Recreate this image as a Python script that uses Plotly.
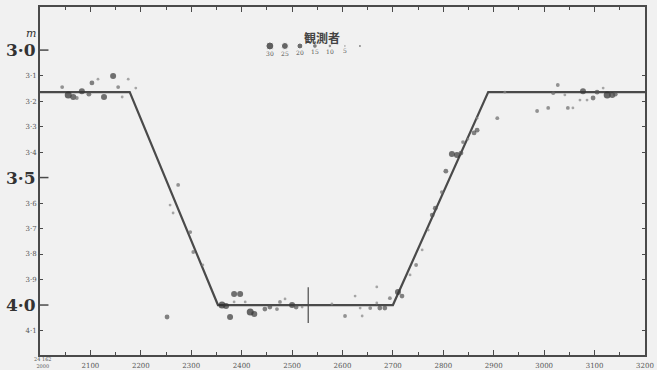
import plotly.graph_objects as go

# ---- data ----
obs_time = [2044, 2056, 2066, 2073, 2083, 2097, 2103, 2115, 2127, 2145, 2155, 2163, 2175, 2190,
            2274, 2258, 2264, 2298, 2304, 2323, 2252,
            2361, 2369, 2385, 2397, 2385, 2407, 2377, 2417, 2425, 2446, 2456, 2470, 2476, 2486,
            2500, 2508, 2520, 2579, 2605, 2625, 2635, 2639, 2655, 2668, 2668, 2674, 2684, 2694,
            2710, 2718,
            2734, 2746, 2758, 2770, 2778, 2784, 2797, 2805, 2817, 2827, 2835, 2839, 2849, 2861,
            2867, 2867, 2907,
            2922, 2986, 3008, 3018, 3027, 3041, 3047, 3057, 3071, 3077, 3085, 3097, 3105, 3117,
            3125, 3135, 3141]
obs_mag = [3.145, 3.176, 3.184, 3.188, 3.161, 3.173, 3.129, 3.114, 3.184, 3.102, 3.145, 3.184, 3.114, 3.149,
           3.529, 3.608, 3.639, 3.714, 3.792, 3.843, 4.047,
           4.000, 4.004, 3.957, 3.957, 3.988, 3.988, 4.047, 4.027, 4.035, 4.016, 4.008, 4.016, 3.988, 3.976,
           4.000, 4.008, 4.008, 3.996, 4.043, 3.965, 4.012, 4.043, 4.012, 3.929, 3.992, 4.012, 4.012, 3.973,
           3.949, 3.965,
           3.882, 3.843, 3.784, 3.706, 3.647, 3.620, 3.557, 3.475, 3.408, 3.412, 3.404, 3.361, 3.349, 3.325,
           3.314, 3.267, 3.267,
           3.165, 3.239, 3.227, 3.169, 3.137, 3.176, 3.227, 3.227, 3.196, 3.161, 3.196, 3.188, 3.165, 3.149,
           3.176, 3.176, 3.173]
obs_weight = [2, 5, 4, 2, 4, 3, 3, 1, 4, 4, 2, 1, 1, 1,
              2, 1, 1, 2, 2, 1, 3,
              5, 4, 4, 4, 1, 1, 4, 5, 4, 3, 3, 2, 2, 1,
              4, 3, 1, 1, 2, 1, 1, 1, 2, 1, 1, 3, 3, 2,
              4, 3,
              1, 2, 1, 1, 3, 3, 2, 3, 4, 4, 3, 2, 1, 3,
              3, 1, 2,
              1, 2, 2, 2, 2, 1, 2, 1, 1, 4, 1, 3, 3, 1,
              5, 4, 3]

model_time = [2000, 2178, 2353, 2700, 2889, 3200]
model_mag = [3.165, 3.165, 4.0, 4.0, 3.165, 3.165]

mid_eclipse_time = 2532
mid_eclipse_mag = [3.93, 4.07]

x_ticks = [2000, 2100, 2200, 2300, 2400, 2500, 2600, 2700, 2800, 2900, 3000, 3100, 3200]
x_labels = ["2000", "2100", "2200", "2300", "2400", "2500", "2600", "2700", "2800", "2900",
            "3000", "3100", "3200"]
corner_label = "24 162"

y_small_ticks = [3.1, 3.2, 3.3, 3.4, 3.6, 3.7, 3.8, 3.9, 4.1]
y_small_labels = ["3·1", "3·2", "3·3", "3·4", "3·6", "3·7", "3·8", "3·9", "4·1"]
y_big_ticks = [3.0, 3.5, 4.0]
y_big_labels = ["3·0", "3·5", "4·0"]

legend_title = "観測者"
legend_labels = ["30", "25", "20", "15", "10", "5"]
legend_weights = [6, 5, 4, 3, 2, 1]

# ---- styling ----
size_of = {6: 8, 5: 7, 4: 6, 3: 4.8, 2: 3.8, 1: 2.8}
color_of = {6: "#222", 5: "#2a2a2a", 4: "#383838", 3: "#505050", 2: "#6a6a6a", 1: "#858585"}
INK = "#4a4a4a"
SERIF = "DejaVu Serif"

fig = go.Figure()

fig.add_trace(go.Scatter(x=model_time, y=model_mag, mode="lines",
                         line=dict(color=INK, width=2.2), hoverinfo="skip"))
fig.add_trace(go.Scatter(x=[mid_eclipse_time, mid_eclipse_time], y=mid_eclipse_mag, mode="lines",
                         line=dict(color=INK, width=1.2), hoverinfo="skip"))
fig.add_trace(go.Scatter(x=obs_time, y=obs_mag, mode="markers",
                         marker=dict(size=[size_of[w] for w in obs_weight],
                                     color=[color_of[w] for w in obs_weight], line=dict(width=0))))

# legend drawn on an overlay axis pair
lx0, ldx = 0.380, 0.0248
leg_x = [lx0 + i * ldx for i in range(len(legend_labels))]
fig.add_trace(go.Scatter(x=leg_x, y=[0.888] * len(leg_x), xaxis="x2", yaxis="y2", mode="markers+text",
                         marker=dict(size=[size_of[w] for w in legend_weights],
                                     color=[color_of[w] for w in legend_weights]),
                         text=legend_labels, textposition="bottom center",
                         textfont=dict(size=6, color="#555555", family=SERIF)))
fig.add_trace(go.Scatter(x=[lx0 + len(leg_x) * ldx], y=[0.888], xaxis="x2", yaxis="y2",
                         mode="markers", marker=dict(size=2, color="#888")))

annotations = [
    dict(text=f"<b>{legend_title}</b>", x=0.466, y=0.942, xref="paper", yref="paper",
         showarrow=False, font=dict(size=12, color="#444", family="Noto Sans CJK JP")),
    dict(text="<i>m</i>", x=-0.027, y=3.0, yshift=17, xref="paper", yref="y", showarrow=False,
         font=dict(size=11, color="#333", family=SERIF)),
    # corner label: epoch above the first tick value
    dict(text=f"{corner_label}<br>{x_labels[0]}", x=0.0, y=0, yshift=0, xshift=3,
         xref="paper", yref="paper", showarrow=False, yanchor="top", xanchor="center",
         borderpad=0, font=dict(size=5, color="#555", family=SERIF)),
]
for v, t in zip(y_big_ticks, y_big_labels):
    annotations.append(dict(text=f"<b>{t}</b>", x=-0.004, y=v, xref="paper", yref="y",
                            xanchor="right", showarrow=False,
                            font=dict(size=17, color="#333", family=SERIF)))

fig.update_layout(
    width=657, height=370,
    margin=dict(l=40, r=12, t=7, b=15),
    paper_bgcolor="#f1f1f1", plot_bgcolor="#f1f1f1",
    showlegend=False,
    annotations=annotations,
    xaxis=dict(range=[2000, 3200], tickvals=x_ticks, ticktext=[""] + x_labels[1:],
               tickfont=dict(size=7, color="#555", family=SERIF), ticklabelstandoff=3,
               ticks="inside", ticklen=5, tickcolor=INK, tickwidth=1,
               minor=dict(dtick=50, tick0=2000, ticks="inside", ticklen=3, tickcolor=INK),
               showline=True, linecolor=INK, linewidth=2, mirror="ticks",
               showgrid=False, zeroline=False, automargin=False),
    yaxis=dict(range=[4.196, 2.831], tickvals=y_small_ticks, ticktext=y_small_labels,
               tickfont=dict(size=7, color="#555", family=SERIF),
               ticks="inside", ticklen=3, tickcolor=INK, tickwidth=1,
               showline=True, linecolor=INK, linewidth=2, mirror="ticks",
               showgrid=False, zeroline=False, automargin=False),
    xaxis2=dict(overlaying="x", range=[0, 1], visible=False),
    yaxis2=dict(overlaying="y", range=[0, 1], visible=False),
)
# big major ticks at 3.0, 3.5, 4.0
for v in y_big_ticks:
    fig.add_shape(type="line", xref="paper", yref="y", x0=0, x1=0.014, y0=v, y1=v,
                  line=dict(color=INK, width=1.5))

fig.write_html("out.html", config={"displayModeBar": False},
               post_script="document.body.style.margin='0';document.body.style.overflow='hidden';")
